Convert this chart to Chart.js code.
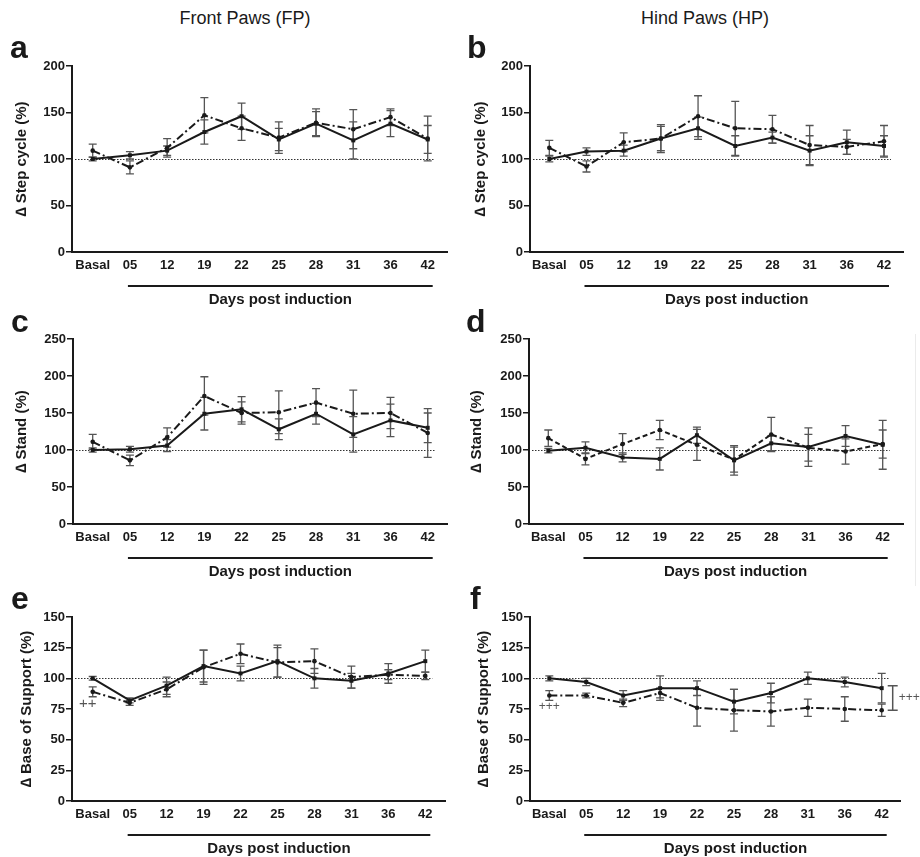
<!DOCTYPE html>
<html><head><meta charset="utf-8">
<script src="https://cdn.jsdelivr.net/npm/chart.js@4.4.1/dist/chart.umd.min.js"></script>
<style>
html,body{margin:0;padding:0;background:#fff;}
#wrap{position:relative;width:920px;height:857px;overflow:hidden;font-family:"Liberation Sans",Arial,sans-serif;color:#1a1a1a;}
canvas{position:absolute;}
.ttl{position:absolute;font-size:18px;top:8px;width:460px;text-align:center;}
.lt{position:absolute;font-size:32px;font-weight:bold;line-height:1;}
</style></head><body>
<div id="wrap">
<canvas id="ca"></canvas><canvas id="cb"></canvas><canvas id="cc"></canvas>
<canvas id="cd"></canvas><canvas id="ce"></canvas><canvas id="cf"></canvas>
<div style="position:absolute;left:915px;top:334px;width:1px;height:252px;background:#ebebeb"></div>
<div class="ttl" style="left:15px">Front Paws (FP)</div>
<div class="ttl" style="left:475px">Hind Paws (HP)</div>
<div class="lt" style="left:10px;top:31px">a</div>
<div class="lt" style="left:467px;top:31px">b</div>
<div class="lt" style="left:11px;top:305px">c</div>
<div class="lt" style="left:466px;top:305px">d</div>
<div class="lt" style="left:11px;top:582px">e</div>
<div class="lt" style="left:470px;top:582px">f</div>
</div>
<script>
// ---- data ----
const days = ['Basal','05','12','19','22','25','28','31','36','42'];

const fpStepSolid    = [100,104,109,129,146,121,138,120,138,121];
const fpStepSolidErr = [2,4,5,13,14,12,13,20,14,15];
const fpStepDash     = [109,91,112,147,133,123,139,132,145,122];
const fpStepDashErr  = [7,7,10,19,13,17,15,21,9,24];

const hpStepSolid    = [100,108,109,122,133,114,123,109,118,114];
const hpStepSolidErr = [3,4,6,13,12,11,6,16,13,11];
const hpStepDash     = [112,92,118,122,146,133,132,115,113,119];
const hpStepDashErr  = [8,6,10,15,22,29,15,21,8,17];

const fpStandSolid    = [100,101,106,149,155,128,149,121,140,130];
const fpStandSolidErr = [3,4,8,22,17,14,14,24,22,20];
const fpStandDash     = [111,86,117,173,150,151,164,149,150,123];
const fpStandDashErr  = [10,7,13,26,15,29,19,32,21,33];

const hpStandSolid    = [99,103,90,88,120,86,109,104,119,107];
const hpStandSolidErr = [3,8,6,15,11,20,10,26,14,33];
const hpStandDash     = [116,88,108,127,107,87,121,103,98,108];
const hpStandDashErr  = [11,8,14,13,21,17,23,18,17,19];

const fpBosSolid    = [100,82,94,110,104,114,100,98,104,114];
const fpBosSolidErr = [1.5,2,7,13,6,13,8,6,8,9];
const fpBosDash     = [89,80,91,109,120,113,114,101,103,102];
const fpBosDashErr  = [4,2,6,14,8,12,10,9,4,3];

const hpBosSolid    = [100,97,86,92,92,81,88,100,97,92];
const hpBosSolidErr = [2,3,4,10,6,10,8,5,4,12];
const hpBosDash     = [86,86,80,88,76,74,73,76,75,74];
const hpBosDashErr  = [4,2,3,4,15,17,12,7,10,5];

const yMaxes = [200,200,250,250,150,150];
const yTitles = ['\u2206 Step cycle (%)','\u2206 Step cycle (%)','\u2206 Stand (%)','\u2206 Stand (%)','\u2206 Base of Support (%)','\u2206 Base of Support (%)'];

// ---- layout ----
Chart.defaults.font.family = '"Liberation Sans", Arial, sans-serif';
Chart.defaults.color = '#1a1a1a';

const dark = '#1a1a1a';
const errCol = '#555';

const panelPlugin = {
  id: 'panel',
  beforeDatasetsDraw(chart, args, opts) {
    const {ctx, chartArea, scales:{x, y}} = chart;
    ctx.save();
    ctx.strokeStyle = '#333'; ctx.lineWidth = 1; ctx.setLineDash([1.5, 1.5]);
    const yr = Math.round(y.getPixelForValue(100)) + 0.5;
    ctx.beginPath(); ctx.moveTo(chartArea.left + 3, yr); ctx.lineTo(x.getPixelForValue(9) + 7, yr); ctx.stroke();
    ctx.setLineDash([]);
    ctx.strokeStyle = errCol; ctx.lineWidth = 1.3;
    chart.data.datasets.forEach(ds => {
      ds.data.forEach((p, i) => {
        const e = ds.errors[i];
        const px = x.getPixelForValue(p.x);
        const yt = y.getPixelForValue(p.y + e), yb = y.getPixelForValue(p.y - e);
        ctx.beginPath();
        ctx.moveTo(px, yt); ctx.lineTo(px, yb);
        ctx.moveTo(px - 4, yt); ctx.lineTo(px + 4, yt);
        ctx.moveTo(px - 4, yb); ctx.lineTo(px + 4, yb);
        ctx.stroke();
      });
    });
    ctx.restore();
  },
  afterDraw(chart, args, opts) {
    const {ctx, scales:{x, y}} = chart;
    ctx.save();
    const x1 = x.getPixelForValue(1) - 2, x2 = x.getPixelForValue(9) + 5;
    const base = y.getPixelForValue(0);
    ctx.strokeStyle = dark; ctx.lineWidth = 2;
    ctx.beginPath(); ctx.moveTo(x1, base + 34); ctx.lineTo(x2, base + 34); ctx.stroke();
    ctx.fillStyle = dark;
    ctx.font = 'bold 15px "Liberation Sans", Arial, sans-serif';
    ctx.textAlign = 'center'; ctx.textBaseline = 'middle';
    ctx.fillText('Days post induction', (x1 + x2) / 2, base + 48);
    ctx.fillStyle = '#555';
    (opts.notes || []).forEach(n => {
      ctx.font = n.size + 'px "Liberation Sans", Arial, sans-serif';
      ctx.textAlign = n.align || 'center';
      ctx.fillText(n.text, x.getPixelForValue(n.x) + n.dx, y.getPixelForValue(n.y));
    });
    if (opts.bracket) {
      const b = opts.bracket;
      const bx = x.getPixelForValue(b.x) + b.dx;
      const t = y.getPixelForValue(b.y1), u = y.getPixelForValue(b.y2);
      ctx.strokeStyle = '#555'; ctx.lineWidth = 1.5;
      ctx.beginPath();
      ctx.moveTo(bx, t); ctx.lineTo(bx, u);
      ctx.moveTo(bx - 5, t); ctx.lineTo(bx + 5, t);
      ctx.moveTo(bx - 5, u); ctx.lineTo(bx + 5, u);
      ctx.stroke();
    }
    ctx.restore();
  }
};

const dashDot = [8, 3, 2, 3];
const panels = [
  {cv:'ca', left:0,   top:40,  h:275, axL:72,  axR:447, axT:66,  axB:252, xB:92.7,  x9:427.7, tp:13, solid:fpStepSolid, solidErr:fpStepSolidErr, dash:fpStepDash, dashErr:fpStepDashErr, pat:dashDot},
  {cv:'cb', left:460, top:40,  h:275, axL:530, axR:903, axT:66,  axB:252, xB:549.3, x9:884,   tp:12, solid:hpStepSolid, solidErr:hpStepSolidErr, dash:hpStepDash, dashErr:hpStepDashErr, pat:dashDot},
  {cv:'cc', left:0,   top:312, h:273, axL:73,  axR:447, axT:339, axB:524, xB:92.7,  x9:427.7, tp:13, solid:fpStandSolid, solidErr:fpStandSolidErr, dash:fpStandDash, dashErr:fpStandDashErr, pat:dashDot},
  {cv:'cd', left:460, top:312, h:273, axL:529, axR:903, axT:339, axB:524, xB:548.3, x9:882.7, tp:8,  solid:hpStandSolid, solidErr:hpStandSolidErr, dash:hpStandDash, dashErr:hpStandDashErr, pat:[5, 3]},
  {cv:'ce', left:0,   top:590, h:267, axL:72,  axR:445, axT:617, axB:801, xB:92.7,  x9:425.3, tp:18, solid:fpBosSolid, solidErr:fpBosSolidErr, dash:fpBosDash, dashErr:fpBosDashErr, pat:dashDot,
    notes:[{text:'++', x:0, dx:-5, y:79, size:15}]},
  {cv:'cf', left:460, top:590, h:267, axL:530, axR:900, axT:617, axB:801, xB:549.3, x9:881.7, tp:15, solid:hpBosSolid, solidErr:hpBosSolidErr, dash:hpBosDash, dashErr:hpBosDashErr, pat:dashDot,
    notes:[{text:'+++', x:0, dx:0, y:76.5, size:12}, {text:'+++', x:9, dx:17, y:84, size:12, align:'left'}],
    bracket:{x:9, dx:11, y1:94, y2:74}}
];

panels.forEach((p, k) => {
  const cv = document.getElementById(p.cv);
  cv.width = 460; cv.height = p.h;
  cv.style.left = p.left + 'px'; cv.style.top = p.top + 'px';
  cv.style.width = '460px'; cv.style.height = p.h + 'px';
  const sp = (p.x9 - p.xB) / 9;
  const xmin = -(p.xB - p.axL) / sp;
  const xmax = 9 + (p.axR - p.x9) / sp;
  const xH = 20;
  const mk = arr => arr.map((v, i) => ({x: i, y: v}));
  new Chart(cv, {
    type: 'line',
    data: {
      datasets: [
        {data: mk(p.dash), errors: p.dashErr, borderColor: dark, borderWidth: 2, borderDash: p.pat,
         pointStyle: 'circle', pointRadius: 2.3, pointBackgroundColor: dark, pointBorderColor: dark, pointBorderWidth: 0, tension: 0},
        {data: mk(p.solid), errors: p.solidErr, borderColor: dark, borderWidth: 2,
         pointStyle: 'rect', pointRadius: 2.8, pointBackgroundColor: dark, pointBorderColor: dark, pointBorderWidth: 0, tension: 0}
      ]
    },
    options: {
      responsive: false, maintainAspectRatio: false, animation: false, devicePixelRatio: 1,
      layout: {padding: {top: p.axT - p.top, left: 0, right: p.left + 460 - p.axR, bottom: p.top + p.h - p.axB - xH}},
      plugins: {legend: {display: false}, tooltip: {enabled: false},
        panel: {notes: p.notes || [], bracket: p.bracket || null}},
      scales: {
        x: {type: 'linear', min: xmin, max: xmax,
          afterBuildTicks: s => { s.ticks = days.map((d, i) => ({value: i})); },
          afterFit: s => { s.height = xH; },
          ticks: {callback: v => days[v], autoSkip: false, maxRotation: 0, padding: 6, color: dark, font: {size: 13, weight: 'bold'}},
          grid: {display: false, drawTicks: false},
          border: {display: true, color: dark, width: 2}},
        y: {min: 0, max: yMaxes[k],
          afterFit: s => { s.width = p.axL - p.left; },
          ticks: {stepSize: yMaxes[k] === 150 ? 25 : 50, padding: 1, color: dark, font: {size: 13, weight: 'bold'}},
          grid: {display: true, drawOnChartArea: false, drawTicks: true, tickLength: 6, color: dark, lineWidth: 1.5},
          border: {display: true, color: dark, width: 2},
          title: {display: true, text: yTitles[k], color: dark, font: {size: 15, weight: 'bold'}, padding: {top: p.tp, bottom: 0}}}
      }
    },
    plugins: [panelPlugin]
  });
});
</script>
</body></html>
